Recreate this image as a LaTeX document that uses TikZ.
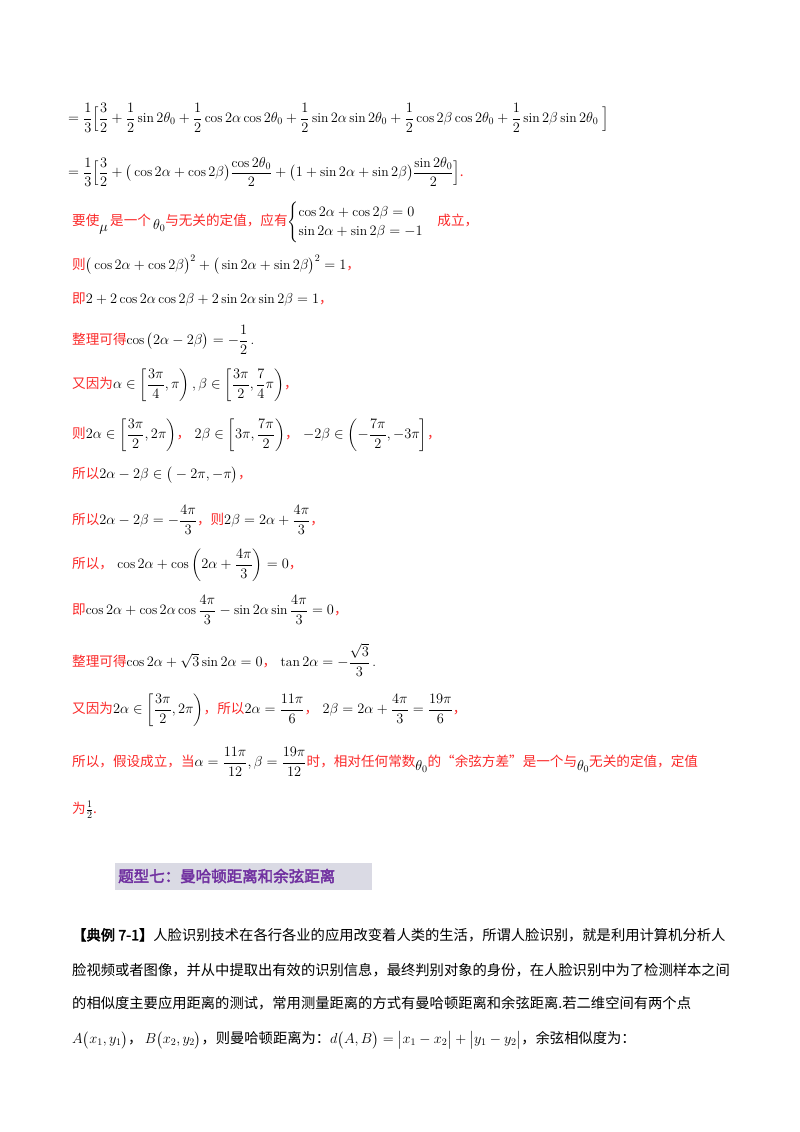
\documentclass[tikz,border=0pt]{standalone}
\usepackage{amsmath,amssymb}
\usepackage{fontspec}
\newfontfamily\cjk[AutoFakeBold=2.5]{Noto Sans CJK SC}
\definecolor{myred}{RGB}{250,40,40}
\definecolor{mypurple}{RGB}{112,48,160}
\definecolor{bandgrey}{RGB}{218,218,228}
\newcommand\zh[1]{{\cjk\color{myred}#1}}
\newcommand\zk[1]{{\cjk #1}}
\tikzset{ln/.style={anchor=west,inner sep=0pt,font=\fontsize{13.6}{16}\selectfont}}
\begin{document}
\begin{tikzpicture}[x=1pt,y=-1pt]
\useasboundingbox (0,0) rectangle (800,1132);
\node[ln] (l1) at (68,118) {$=\dfrac13\Big[\dfrac32+\dfrac12\sin2\theta_0+\dfrac12\cos2\alpha\cos2\theta_0+\dfrac12\sin2\alpha\sin2\theta_0+\dfrac12\cos2\beta\cos2\theta_0+\dfrac12\sin2\beta\sin2\theta_0\ \Big]$};
\node[ln] (l2) at (68,172) {$=\dfrac13\Big[\dfrac32+\big(\cos2\alpha+\cos2\beta\big)\dfrac{\cos2\theta_0}{2}+\big(1+\sin2\alpha+\sin2\beta\big)\dfrac{\sin2\theta_0}{2}\Big]$\zh{.}};
\node[ln] (l3) at (72,222) {\zh{要使}\raisebox{-6pt}{$\mu$}\,\zh{是一个}\,\raisebox{-4pt}{$\theta_0$}\zh{与无关的定值，应有}$\begin{cases}\cos2\alpha+\cos2\beta=0\\ \sin2\alpha+\sin2\beta=-1\end{cases}$\zh{成立，}};
\node[ln] (l4) at (72,265) {\zh{则}$\big(\cos2\alpha+\cos2\beta\big)^2+\big(\sin2\alpha+\sin2\beta\big)^2=1$\zh{，}};
\node[ln] (l5) at (72,300) {\zh{即}$2+2\cos2\alpha\cos2\beta+2\sin2\alpha\sin2\beta=1$\zh{，}};
\node[ln] (l6) at (72,340) {\zh{整理可得}$\cos\big(2\alpha-2\beta\big)=-\dfrac12$\,.};
\node[ln] (l7) at (72,385) {\zh{又因为}$\alpha\in\left[\dfrac{3\pi}{4},\pi\right),\beta\in\left[\dfrac{3\pi}{2},\dfrac74\pi\right)$\zh{，}};
\node[ln] (l8) at (72,435) {\zh{则}$2\alpha\in\left[\dfrac{3\pi}{2},2\pi\right)$\zh{，}\ $2\beta\in\left[3\pi,\dfrac{7\pi}{2}\right)$\zh{，}\ $-2\beta\in\left(-\dfrac{7\pi}{2},-3\pi\right]$\zh{，}};
\node[ln] (l9) at (72,475) {\zh{所以}$2\alpha-2\beta\in\big(-2\pi,-\pi\big)$\zh{，}};
\node[ln] (l10) at (72,520) {\zh{所以}$2\alpha-2\beta=-\dfrac{4\pi}{3}$\zh{，则}$2\beta=2\alpha+\dfrac{4\pi}{3}$\zh{，}};
\node[ln] (l11) at (72,565) {\zh{所以，}\ $\cos2\alpha+\cos\left(2\alpha+\dfrac{4\pi}{3}\right)=0$\zh{，}};
\node[ln] (l12) at (72,610) {\zh{即}$\cos2\alpha+\cos2\alpha\cos\dfrac{4\pi}{3}-\sin2\alpha\sin\dfrac{4\pi}{3}=0$\zh{，}};
\node[ln] (l13) at (72,660) {\zh{整理可得}$\cos2\alpha+\sqrt3\sin2\alpha=0$\zh{，}\ $\tan2\alpha=-\dfrac{\sqrt3}{3}$\,.};
\node[ln] (l14) at (72,710) {\zh{又因为}$2\alpha\in\left[\dfrac{3\pi}{2},2\pi\right)$\zh{，所以}$2\alpha=\dfrac{11\pi}{6}$\zh{，}\ $2\beta=2\alpha+\dfrac{4\pi}{3}=\dfrac{19\pi}{6}$\zh{，}};
\node[ln] (l15) at (72,762) {\zh{所以，假设成立，当}$\alpha=\dfrac{11\pi}{12},\beta=\dfrac{19\pi}{12}$\zh{时，相对任何常数}\raisebox{-4pt}{$\theta_0$}\zh{的“余弦方差”是一个与}\raisebox{-4pt}{$\theta_0$}\zh{无关的定值，定值}};
\node[ln] (l16) at (72,810) {\zh{为}$\frac12$\zh{.}};
\fill[bandgrey] (115,863) rectangle (372,890);
\node[ln,font=\fontsize{15.5}{18}\selectfont\cjk\bfseries,text=mypurple] (h) at (118,876) {题型七：曼哈顿距离和余弦距离};
\node[ln,font=\fontsize{14.3}{17}\selectfont] (p1) at (72,935) {\zk{\textbf{【典例 7-1】}人脸识别技术在各行各业的应用改变着人类的生活，所谓人脸识别，就是利用计算机分析人}};
\node[ln,font=\fontsize{14.3}{17}\selectfont] (p2) at (72,970) {\zk{脸视频或者图像，并从中提取出有效的识别信息，最终判别对象的身份，在人脸识别中为了检测样本之间}};
\node[ln,font=\fontsize{14.3}{17}\selectfont] (p3) at (72,1003) {\zk{的相似度主要应用距离的测试，常用测量距离的方式有曼哈顿距离和余弦距离.若二维空间有两个点}};
\node[ln,font=\fontsize{14.3}{17}\selectfont] (p4) at (72,1040) {$A\big(x_1,y_1\big)$\zk{，}\,$B\big(x_2,y_2\big)$\zk{，则曼哈顿距离为：}$d\big(A,B\big)=\big|x_1-x_2\big|+\big|y_1-y_2\big|$\zk{，余弦相似度为：}};
\end{tikzpicture}
\end{document}
